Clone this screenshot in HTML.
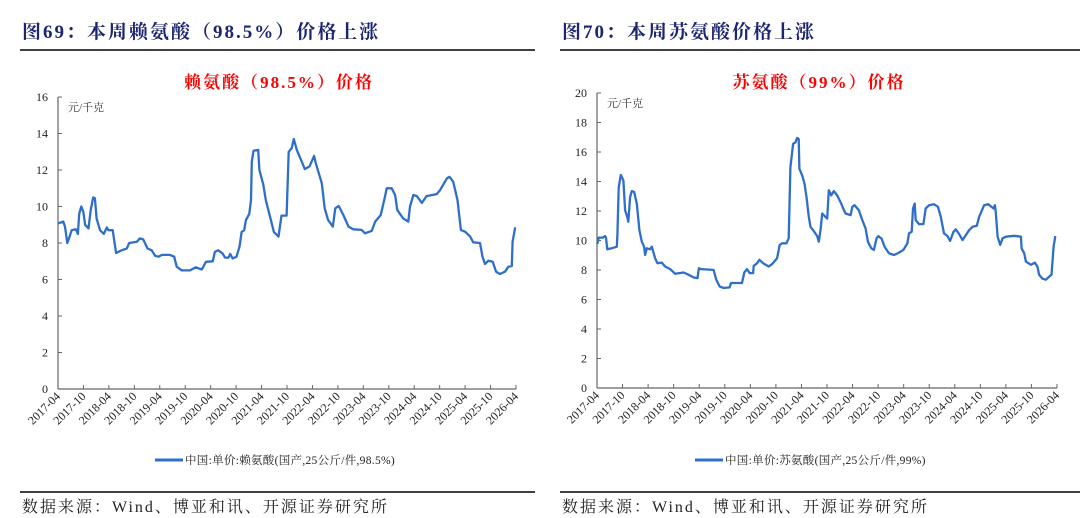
<!DOCTYPE html>
<html><head><meta charset="utf-8">
<style>
html,body{margin:0;padding:0;background:#fff;}
body{width:1080px;height:518px;overflow:hidden;position:relative;font-family:"Liberation Serif","Noto Serif CJK SC",serif;}
svg{position:absolute;left:0;top:0;}
</style></head>
<body>
<svg id="svg" width="1080" height="518" viewBox="0 0 1080 518">
  <text x="22" y="38" font-size="19" font-weight="bold" letter-spacing="2" fill="#1c2570">图69：本周赖氨酸（98.5%）价格上涨</text>
  <line x1="20" y1="50" x2="535" y2="50" stroke="#000" stroke-width="1.5"/>
  <text x="562" y="38" font-size="19" font-weight="bold" letter-spacing="2" fill="#1c2570">图70：本周苏氨酸价格上涨</text>
  <line x1="560" y1="50" x2="1080" y2="50" stroke="#000" stroke-width="1.5"/>
  <line x1="20" y1="492" x2="535" y2="492" stroke="#000" stroke-width="1.5"/>
  <line x1="560" y1="492" x2="1080" y2="492" stroke="#000" stroke-width="1.5"/>
  <text x="22" y="512" font-size="16" letter-spacing="2" fill="#222">数据来源：Wind、博亚和讯、开源证券研究所</text>
  <text x="562" y="512" font-size="16" letter-spacing="2" fill="#222">数据来源：Wind、博亚和讯、开源证券研究所</text>
  <g id="left"></g>
  <g id="right"></g>
</svg>
<script>
const tickLabels = ["2017-04","2017-10","2018-04","2018-10","2019-04","2019-10","2020-04","2020-10","2021-04","2021-10","2022-04","2022-10","2023-04","2023-10","2024-04","2024-10","2025-04","2025-10","2026-04"];
const lysMonths = [0.1,1.25,1.65,2.2,2.8,3.2,4.2,4.7,5.0,5.5,6.0,6.4,7.2,7.7,8.3,8.7,9.1,9.9,10.8,11.5,11.9,12.9,13.7,15.0,16.2,16.8,18.6,19.3,20.1,21.1,22.1,22.9,23.7,24.5,26.4,27.4,28.0,29.2,31.1,32.5,33.9,34.9,36.5,37.0,37.8,38.8,39.4,40.2,40.6,41.2,42.1,42.8,43.3,43.9,44.3,45.1,45.5,45.7,46.1,47.2,47.5,48.4,49.0,50.0,50.9,51.6,52.0,52.7,53.9,54.4,55.1,55.6,56.3,57.5,58.2,59.3,60.4,60.8,62.2,62.9,63.7,64.8,65.4,66.2,67.3,68.5,69.6,71.6,72.4,74.0,74.8,76.1,77.1,77.5,78.7,79.5,80.0,81.4,82.6,83.0,83.8,84.6,85.8,86.9,89.3,90.1,91.7,92.3,93.2,94.2,95.0,96.0,97.2,97.9,99.5,100.1,100.7,101.5,102.5,103.3,104.2,105.4,106.2,107.0,107.2,107.8];
const lysValues = [9.08,9.17,8.9,8.0,8.4,8.7,8.75,8.5,9.6,10.0,9.7,9.0,8.8,9.8,10.5,10.45,9.35,8.7,8.5,8.85,8.7,8.7,7.45,7.6,7.7,8.0,8.07,8.25,8.2,7.7,7.6,7.3,7.25,7.35,7.35,7.25,6.7,6.5,6.5,6.67,6.55,6.97,7.0,7.52,7.6,7.43,7.2,7.2,7.4,7.15,7.25,7.8,8.6,8.7,9.25,9.6,10.35,12.45,13.05,13.1,12.0,11.2,10.35,9.45,8.6,8.45,8.35,9.5,9.5,13.0,13.2,13.7,13.1,12.45,12.05,12.2,12.77,12.37,11.27,9.9,9.26,8.9,9.9,10.03,9.53,8.9,8.75,8.72,8.53,8.67,9.17,9.53,10.54,11.0,11.0,10.63,9.8,9.35,9.17,10.0,10.63,10.57,10.2,10.57,10.68,10.9,11.54,11.63,11.36,10.35,8.71,8.62,8.35,8.04,8.0,7.25,6.85,7.03,6.97,6.43,6.3,6.43,6.7,6.74,8.07,8.86];
const thrMonths = [0.07,0.4,1.34,1.88,2.12,2.42,3.46,4.64,4.78,5.1,5.58,6.19,6.59,6.99,7.36,7.76,8.16,8.71,9.34,9.95,10.52,11.06,11.29,11.69,12.47,12.87,13.65,14.19,15.22,16.0,17.18,18.35,20.31,21.48,22.66,23.6,23.93,24.4,27.37,28.0,28.78,29.72,31.13,31.46,34.05,34.59,35.22,35.84,36.64,36.78,37.58,38.12,38.99,40.31,41.11,42.28,42.9,43.46,44.47,45.01,45.41,46.05,46.59,46.99,47.36,47.53,48.17,48.71,49.18,49.72,50.12,50.9,51.7,52.07,52.47,52.87,53.65,54.05,54.43,54.99,55.6,56.4,57.34,57.81,58.35,59.53,59.93,60.47,61.48,62.28,63.06,63.6,64.4,65.01,65.65,66.05,66.82,67.53,68.54,69.72,70.9,71.93,72.87,73.25,73.88,74.19,74.59,74.83,75.6,76.64,77.18,77.96,79.13,80.07,80.71,81.48,82.28,82.9,83.7,84.24,85.01,85.81,87.37,88.17,89.18,89.72,90.89,91.83,93.11,93.41,93.65,94.05,94.66,95.22,96.0,97.95,99.53,99.69,100.3,100.7,101.9,102.8,103.4,103.8,104.6,105.4,106.2,106.7,107.2,107.6];
const thrValues = [9.76,10.2,10.2,10.3,10.2,9.4,9.47,9.58,10.37,13.6,14.45,14.07,12.05,11.7,11.27,12.95,13.35,13.3,12.5,10.7,9.92,9.58,9.02,9.47,9.4,9.58,8.8,8.46,8.5,8.24,8.06,7.74,7.83,7.68,7.5,7.45,8.13,8.06,8.01,7.34,6.89,6.78,6.82,7.12,7.12,7.83,8.06,7.79,7.79,8.28,8.46,8.69,8.46,8.24,8.4,8.8,9.7,9.81,9.81,10.15,14.97,16.55,16.65,16.95,16.88,14.86,14.41,13.85,12.95,11.6,10.93,10.64,10.3,9.92,10.7,11.83,11.6,11.49,13.4,13.06,13.35,13.06,12.5,12.17,11.83,11.72,12.28,12.39,12.05,11.38,10.82,9.92,9.47,9.36,10.15,10.3,10.12,9.58,9.14,9.02,9.18,9.36,9.81,10.48,10.59,12.17,12.5,11.38,11.11,11.11,12.17,12.39,12.46,12.28,11.6,10.48,10.3,9.97,10.59,10.75,10.44,10.03,10.7,10.93,11.0,11.6,12.39,12.46,12.17,12.39,11.83,10.26,9.7,10.15,10.26,10.32,10.26,9.47,9.14,8.57,8.35,8.5,8.24,7.68,7.41,7.34,7.56,7.68,9.58,10.3];
const lysTicks = [0,2,4,6,8,10,12,14,16];
const thrTicks = [0,2,4,6,8,10,12,14,16,18,20];

const NS = "http://www.w3.org/2000/svg";
function mk(tag, attrs, parent){const e=document.createElementNS(NS,tag);for(const k in attrs)e.setAttribute(k,attrs[k]);parent.appendChild(e);return e;}

function drawChart(g, cfg){
  const {x0,x1,y0,y1,ymax,yticks,months,values,title,legend,cx} = cfg;
  const xs = m => x0 + (x1-x0)*m/108;
  const ys = v => y0 - (y0-y1)*v/ymax;
  const t = mk('text',{x:cx+1,y:88,'font-size':17,'font-weight':'bold','letter-spacing':2,fill:'#ff0000','text-anchor':'middle'},g);
  t.textContent = title;
  
  
  const u = mk('text',{x:x0+10,y:y1+14,'font-size':11,fill:'#333'},g);
  u.textContent = '元/千克';
  
  
  const ya = mk('line',{x1:x0,y1:y1,x2:x0,y2:y0,stroke:'#666','stroke-width':1.2},g);
  
  
  yticks.forEach(v=>{
    const tk = mk('line',{x1:x0,y1:ys(v),x2:x0+4,y2:ys(v),stroke:'#666','stroke-width':1},g);
    
    
    const tl = mk('text',{x:x0-10,y:ys(v)+4,'font-size':12,fill:'#222','text-anchor':'end'},g);
    tl.textContent = v;
    
    
  });
  const xa = mk('line',{x1:x0,y1:y0,x2:x1,y2:y0,stroke:'#666','stroke-width':1.2},g);
  
  
  tickLabels.forEach((lab,i)=>{
    const x = xs(i*6);
    const tk = mk('line',{x1:x,y1:y0,x2:x,y2:y0-4,stroke:'#666','stroke-width':1},g);
    
    
    const tl = mk('text',{x:x+3,y:y0+8,'font-size':12,fill:'#222','text-anchor':'end',transform:`rotate(-45 ${x+3} ${y0+8})`},g);
    tl.textContent = lab;
    
    
  });
  let d = '';
  months.forEach((m,i)=>{ d += (i?'L':'M') + xs(m).toFixed(1) + ',' + ys(values[i]).toFixed(1); });
  const p = mk('path',{d:d,fill:'none',stroke:'#2f6fc8','stroke-width':2.3,'stroke-linejoin':'round'},g);
  
  
  const lg = mk('line',{x1:cx-123,y1:460,x2:cx-95,y2:460,stroke:'#2f6fc8','stroke-width':3},g);
  
  
  const lt = mk('text',{x:cx-93,y:464,'font-size':11.5,'letter-spacing':0.3,fill:'#222'},g);
  lt.textContent = legend;
  
  
}

drawChart(document.getElementById('left'),{x0:58,x1:516,y0:389,y1:97,ymax:16,yticks:lysTicks,months:lysMonths,values:lysValues,title:'赖氨酸（98.5%）价格',legend:'中国:单价:赖氨酸(国产,25公斤/件,98.5%)',cx:278});
drawChart(document.getElementById('right'),{x0:597,x1:1057,y0:388,y1:93,ymax:20,yticks:thrTicks,months:thrMonths,values:thrValues,title:'苏氨酸（99%）价格',legend:'中国:单价:苏氨酸(国产,25公斤/件,99%)',cx:818});
</script>
</body></html>
